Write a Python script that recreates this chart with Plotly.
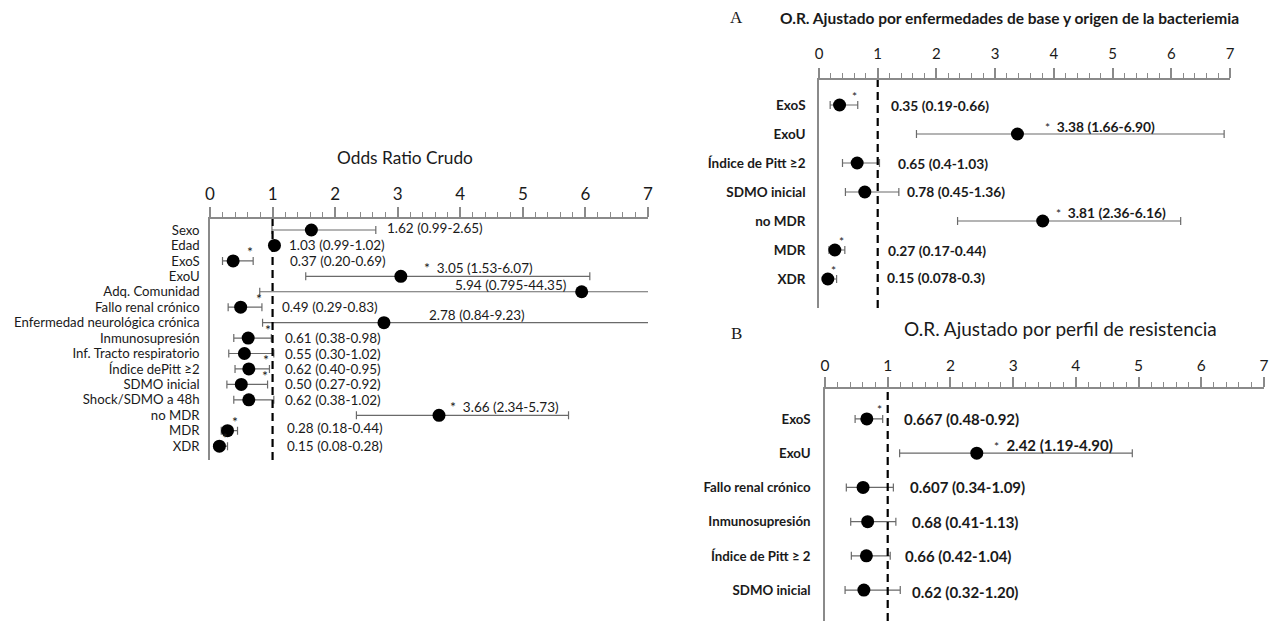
import plotly.graph_objects as go

W, H = 1277, 629          # reference canvas
OFF = 8                   # page body margin around the plot div
FW, FH = W - 2 * OFF, H - 2 * OFF
FONT = "Lato, 'Open Sans', sans-serif"
TXT = "#1a1a1a"
AXC = "#8a8a8a"
ERRC = "#6a6a6a"

# ---------------- data: crude odds ratios ----------------
crude_vars = ["Sexo", "Edad", "ExoS", "ExoU", "Adq. Comunidad", "Fallo renal crónico",
              "Enfermedad neurológica crónica", "Inmunosupresión", "Inf. Tracto respiratorio",
              "Índice dePitt ≥2", "SDMO inicial", "Shock/SDMO a 48h", "no MDR", "MDR", "XDR"]
crude_or = [1.62, 1.03, 0.37, 3.05, 5.94, 0.49, 2.78, 0.61, 0.55, 0.62, 0.50, 0.62, 3.66, 0.28, 0.15]
crude_lo = [0.99, 0.99, 0.20, 1.53, 0.795, 0.29, 0.84, 0.38, 0.30, 0.40, 0.27, 0.38, 2.34, 0.18, 0.08]
crude_hi = [2.65, 1.02, 0.69, 6.07, 44.35, 0.83, 9.23, 0.98, 1.02, 0.95, 0.92, 1.02, 5.73, 0.44, 0.28]
crude_txt = ["1.62 (0.99-2.65)", "1.03 (0.99-1.02)", "0.37 (0.20-0.69)", "3.05 (1.53-6.07)",
             "5.94 (0.795-44.35)", "0.49 (0.29-0.83)", "2.78 (0.84-9.23)", "0.61 (0.38-0.98)",
             "0.55 (0.30-1.02)", "0.62 (0.40-0.95)", "0.50 (0.27-0.92)", "0.62 (0.38-1.02)",
             "3.66 (2.34-5.73)", "0.28 (0.18-0.44)", "0.15 (0.08-0.28)"]
crude_sig = [False, False, True, True, False, True, False, True, False, True, True, False, True, True, True]

# ---------------- data: A, adjusted by comorbidities / source ----------------
a_vars = ["ExoS", "ExoU", "Índice de Pitt ≥2", "SDMO inicial", "no MDR", "MDR", "XDR"]
a_or = [0.35, 3.38, 0.65, 0.78, 3.81, 0.27, 0.15]
a_lo = [0.19, 1.66, 0.4, 0.45, 2.36, 0.17, 0.078]
a_hi = [0.66, 6.90, 1.03, 1.36, 6.16, 0.44, 0.3]
a_txt = ["0.35 (0.19-0.66)", "3.38 (1.66-6.90)", "0.65 (0.4-1.03)", "0.78 (0.45-1.36)",
         "3.81 (2.36-6.16)", "0.27 (0.17-0.44)", "0.15 (0.078-0.3)"]
a_sig = [True, True, False, False, True, True, True]

# ---------------- data: B, adjusted by resistance profile ----------------
b_vars = ["ExoS", "ExoU", "Fallo renal crónico", "Inmunosupresión", "Índice de Pitt ≥ 2", "SDMO inicial"]
b_or = [0.667, 2.42, 0.607, 0.68, 0.66, 0.62]
b_lo = [0.48, 1.19, 0.34, 0.41, 0.42, 0.32]
b_hi = [0.92, 4.90, 1.09, 1.13, 1.04, 1.20]
b_txt = ["0.667 (0.48-0.92)", "2.42 (1.19-4.90)", "0.607 (0.34-1.09)", "0.68 (0.41-1.13)",
         "0.66 (0.42-1.04)", "0.62 (0.32-1.20)"]
b_sig = [True, True, False, False, False, False]

tick_vals = [0, 1, 2, 3, 4, 5, 6, 7]
ref_value = 1

# ---------------- layout / label placement (style, not data) ----------------
crude_lab_x = [2.80, 1.23, 1.25, 3.39, 3.88, 1.12, 3.47, 1.17, 1.17, 1.17, 1.17, 1.17, 3.80, 1.20, 1.20]
crude_lab_dy = [2, 0, 0, 9, 7, 0, 8, 0, 0, 0, 0, 0, 9, 3, 0]
crude_inline = [False, False, False, True, False, False, False, False, False, False, False, False, True, False, False]

a_lab_x = [1.19, 3.82, 1.31, 1.47, 4.0, 1.14, 1.12]
a_lab_dy = [0, 8, 0, 1, 9, 0, 2]
a_inline = [False, True, False, False, True, False, False]

b_lab_x = [1.22, 2.66, 1.32, 1.36, 1.24, 1.36]
b_lab_dy = [0, 8, 0, 0, 0, -2]
b_inline = [False, True, False, False, False, False]


def px_x(p):
    return (p - OFF) / FW


def px_y(p):
    return 1 - (p - OFF) / FH


panels = [
    dict(xa="x", ya="y", vars=crude_vars, orr=crude_or, lo=crude_lo, hi=crude_hi, txt=crude_txt,
         sig=crude_sig, lx=crude_lab_x, ldy=crude_lab_dy, inline=crude_inline,
         x0=210, x1=648, ytop=219, ybot=460, row0=230, rowstep=15.44,
         msize=13, tickfs=17, labfs=13.2, labbold=False, valfs=13.5, valbold=False, starfs=14,
         standoff=6, xstand=0),
    dict(xa="x2", ya="y2", vars=a_vars, orr=a_or, lo=a_lo, hi=a_hi, txt=a_txt,
         sig=a_sig, lx=a_lab_x, ldy=a_lab_dy, inline=a_inline,
         x0=819, x1=1230, ytop=80, ybot=308, row0=105, rowstep=29,
         msize=13, tickfs=15, labfs=13.5, labbold=True, valfs=13.8, valbold=True, starfs=12,
         standoff=9, xstand=3),
    dict(xa="x3", ya="y3", vars=b_vars, orr=b_or, lo=b_lo, hi=b_hi, txt=b_txt,
         sig=b_sig, lx=b_lab_x, ldy=b_lab_dy, inline=b_inline,
         x0=825, x1=1264, ytop=389, ybot=629, row0=420, rowstep=35.4,
         msize=13, tickfs=15.5, labfs=13.3, labbold=True, valfs=15, valbold=True, starfs=12,
         standoff=10, xstand=0),
]

fig = go.Figure()
annotations = []
shapes = []
layout_axes = {}

for p in panels:
    n = len(p["vars"])
    fig.add_trace(go.Scatter(
        x=p["orr"], y=p["vars"], mode="markers",
        marker=dict(color="black", size=p["msize"]),
        error_x=dict(type="data", symmetric=False,
                     array=[max(h - o, 0) for h, o in zip(p["hi"], p["orr"])],
                     arrayminus=[o - l for o, l in zip(p["orr"], p["lo"])],
                     color=ERRC, thickness=1.2, width=4),
        xaxis=p["xa"], yaxis=p["ya"], showlegend=False, hoverinfo="skip",
    ))
    xkey = "xaxis" + p["xa"][1:]
    ykey = "yaxis" + p["ya"][1:]
    layout_axes[xkey] = dict(
        domain=[px_x(p["x0"]), px_x(p["x1"])], range=[0, 7], side="top", anchor=p["ya"],
        automargin=False,
        tickmode="array", tickvals=tick_vals, ticktext=[str(v) for v in tick_vals],
        showline=True, linecolor=AXC, linewidth=1.5,
        ticks="outside", ticklen=10, tickwidth=1.5, tickcolor=AXC,
        ticklabelstandoff=p["xstand"],
        minor=dict(ticks="outside", ticklen=5, tickwidth=1, tickcolor=AXC, dtick=0.2, tick0=0, showgrid=False),
        showgrid=False, zeroline=False,
        tickfont=dict(family=FONT, size=p["tickfs"], color=TXT),
    )
    top_idx = (p["ytop"] - p["row0"]) / p["rowstep"]
    bot_idx = (p["ybot"] - p["row0"]) / p["rowstep"]
    layout_axes[ykey] = dict(
        domain=[max(px_y(p["ybot"]), 0), px_y(p["ytop"])], range=[bot_idx, top_idx],
        type="category", categoryorder="array", categoryarray=p["vars"], anchor=p["xa"],
        tickmode="array", tickvals=p["vars"], ticktext=p["vars"],
        automargin=False,
        showline=True, linecolor=AXC, linewidth=1.5, ticks="", showgrid=False, zeroline=False,
        ticklabelstandoff=p["standoff"],
        tickfont=dict(family=FONT, size=p["labfs"], color=TXT,
                      weight="bold" if p["labbold"] else "normal"),
    )
    shapes.append(dict(type="line", xref=p["xa"], yref=p["ya"] + " domain",
                       x0=ref_value, x1=ref_value, y0=0, y1=1, layer="above",
                       line=dict(color="black", width=2.2, dash="8px,5px")))
    for i in range(n):
        text = p["txt"][i]
        if p["inline"][i]:
            text = f"<span style='font-size:{p['starfs']}px;font-weight:normal'>*</span>  " + text
        annotations.append(dict(
            xref=p["xa"], yref=p["ya"], x=p["lx"][i], y=p["vars"][i], yshift=p["ldy"][i],
            text=text, showarrow=False, xanchor="left", yanchor="middle",
            font=dict(family=FONT, size=p["valfs"], color=TXT,
                      weight="bold" if p["valbold"] else "normal"),
        ))
        if p["sig"][i] and not p["inline"][i]:
            annotations.append(dict(
                xref=p["xa"], yref=p["ya"], x=p["hi"][i], y=p["vars"][i], xshift=-3, yshift=9,
                text="*", showarrow=False, xanchor="center", yanchor="middle",
                font=dict(family=FONT, size=p["starfs"], color=TXT),
            ))

# titles and panel letters
annotations += [
    dict(xref="paper", yref="paper", x=px_x(405), y=px_y(157), text="Odds Ratio Crudo",
         showarrow=False, xanchor="center", yanchor="middle",
         font=dict(family=FONT, size=17.3, color=TXT)),
    dict(xref="paper", yref="paper", x=px_x(1009), y=px_y(18),
         text="O.R. Ajustado por enfermedades de base y origen de la bacteriemia",
         showarrow=False, xanchor="center", yanchor="middle",
         font=dict(family=FONT, size=15.5, color=TXT, weight="bold")),
    dict(xref="paper", yref="paper", x=px_x(1060), y=px_y(328),
         text="O.R. Ajustado por perfil de resistencia",
         showarrow=False, xanchor="center", yanchor="middle",
         font=dict(family=FONT, size=19, color=TXT)),
    dict(xref="paper", yref="paper", x=px_x(737), y=px_y(18), text="A",
         showarrow=False, xanchor="center", yanchor="middle",
         font=dict(family="'Liberation Serif', serif", size=17, color=TXT)),
    dict(xref="paper", yref="paper", x=px_x(737), y=px_y(334), text="B",
         showarrow=False, xanchor="center", yanchor="middle",
         font=dict(family="'Liberation Serif', serif", size=17, color=TXT)),
]

fig.update_layout(
    width=FW, height=FH, margin=dict(l=0, r=0, t=0, b=0, autoexpand=False),
    paper_bgcolor="white", plot_bgcolor="white",
    annotations=annotations, shapes=shapes, showlegend=False,
    **layout_axes,
)

fig.write_html("out.html")
